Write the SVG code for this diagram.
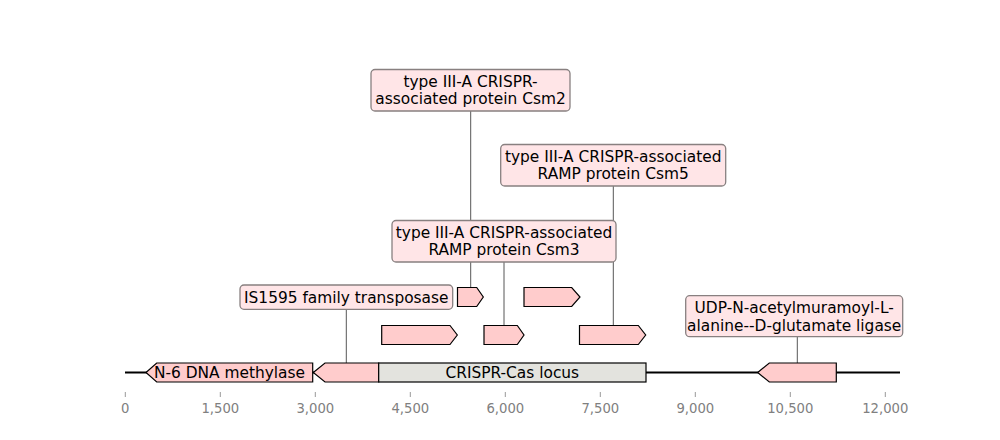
<svg xmlns="http://www.w3.org/2000/svg" width="1000" height="440" viewBox="0 0 1000 440">
<style>
.gene{fill:#ffcccc;stroke:#000;stroke-width:1.2;stroke-linejoin:miter}
.locus{fill:#e3e3de;stroke:#000;stroke-width:1.2}
.lbl{fill:#ffe5e7;stroke:#888080;stroke-width:1.3}
.t{font-family:"DejaVu Sans",sans-serif;font-size:15.4px;fill:#000;text-anchor:middle}
.tick{font-family:"DejaVu Sans",sans-serif;font-size:13.2px;fill:#808080;text-anchor:middle}
.conn{stroke:#444;stroke-width:0.9;fill:none}
</style>
<rect width="1000" height="440" fill="#fff"/>
<g id="axis">
<line x1="125" y1="372.5" x2="900" y2="372.5" stroke="#000" stroke-width="2"/>
<g stroke="#999" stroke-width="1">
<line x1="125.3" y1="392" x2="125.3" y2="397"/>
<line x1="220.3" y1="392" x2="220.3" y2="397"/>
<line x1="315.3" y1="392" x2="315.3" y2="397"/>
<line x1="410.3" y1="392" x2="410.3" y2="397"/>
<line x1="505.3" y1="392" x2="505.3" y2="397"/>
<line x1="600.3" y1="392" x2="600.3" y2="397"/>
<line x1="695.3" y1="392" x2="695.3" y2="397"/>
<line x1="790.3" y1="392" x2="790.3" y2="397"/>
<line x1="885.3" y1="392" x2="885.3" y2="397"/>
</g>
<text class="tick" x="125.3" y="412.5">0</text>
<text class="tick" x="220.3" y="412.5">1,500</text>
<text class="tick" x="315.3" y="412.5">3,000</text>
<text class="tick" x="410.3" y="412.5">4,500</text>
<text class="tick" x="505.3" y="412.5">6,000</text>
<text class="tick" x="600.3" y="412.5">7,500</text>
<text class="tick" x="695.3" y="412.5">9,000</text>
<text class="tick" x="790.3" y="412.5">10,500</text>
<text class="tick" x="885.3" y="412.5">12,000</text>
</g>
<g id="connectors">
<line class="conn" x1="470.7" y1="111" x2="470.7" y2="287.5"/>
<line class="conn" x1="613.3" y1="186" x2="613.3" y2="325.5"/>
<line class="conn" x1="504" y1="262" x2="504" y2="325.5"/>
<line class="conn" x1="346.3" y1="309.3" x2="346.3" y2="363"/>
<line class="conn" x1="797.3" y1="336.7" x2="797.3" y2="363"/>
</g>
<g id="n6-methylase">
<polygon class="gene" points="146,372.5 156.7,363 312.7,363 312.7,382 156.7,382"/>
<text class="t" x="229.5" y="378">N-6 DNA methylase</text>
</g>
<g id="transposase-gene">
<polygon class="gene" points="313.3,372.5 325,363 378.7,363 378.7,382 325,382"/>
</g>
<g id="crispr-locus">
<rect class="locus" x="378.7" y="363" width="267.3" height="19"/>
<text class="t" x="512.3" y="378">CRISPR-Cas locus</text>
</g>
<g id="ligase-gene">
<polygon class="gene" points="757.7,372.5 769.3,363 836.3,363 836.3,382 769.3,382"/>
</g>
<g id="gene-a">
<polygon class="gene" points="381.7,325.5 450,325.5 457.3,335 450,344.5 381.7,344.5"/>
</g>
<g id="gene-csm3">
<polygon class="gene" points="484,325.5 517.3,325.5 524,335 517.3,344.5 484,344.5"/>
</g>
<g id="gene-csm5">
<polygon class="gene" points="579.5,325.5 638.3,325.5 645.7,335 638.3,344.5 579.5,344.5"/>
</g>
<g id="gene-csm2">
<polygon class="gene" points="457.5,287.5 476.7,287.5 483.3,297 476.7,306.5 457.5,306.5"/>
</g>
<g id="gene-e">
<polygon class="gene" points="524,287.5 571.7,287.5 580,297 571.7,306.5 524,306.5"/>
</g>
<g id="label-csm2">
<rect class="lbl" x="371" y="69.5" width="199" height="41.5" rx="4"/>
<text class="t" x="470.5" y="86.7">type III-A CRISPR-</text>
<text class="t" x="470.5" y="104.2">associated protein Csm2</text>
</g>
<g id="label-csm5">
<rect class="lbl" x="500.7" y="144.5" width="225" height="41.5" rx="4"/>
<text class="t" x="613.2" y="161.8">type III-A CRISPR-associated</text>
<text class="t" x="613.2" y="179.3">RAMP protein Csm5</text>
</g>
<g id="label-csm3">
<rect class="lbl" x="392" y="220.5" width="224" height="41.5" rx="4"/>
<text class="t" x="504" y="237.8">type III-A CRISPR-associated</text>
<text class="t" x="504" y="255.3">RAMP protein Csm3</text>
</g>
<g id="label-transposase">
<rect class="lbl" x="240" y="285" width="212.7" height="24.3" rx="4"/>
<text class="t" x="346.3" y="302.5">IS1595 family transposase</text>
</g>
<g id="label-ligase">
<rect class="lbl" x="685.7" y="295.7" width="217" height="41" rx="4"/>
<text class="t" x="794.2" y="313">UDP-N-acetylmuramoyl-L-</text>
<text class="t" x="794.2" y="330.5">alanine--D-glutamate ligase</text>
</g>
</svg>
